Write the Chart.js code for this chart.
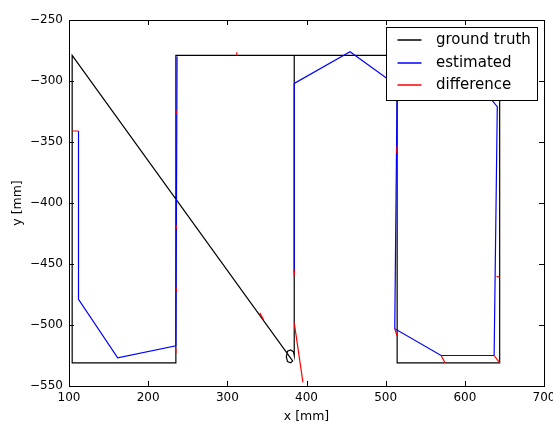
<!DOCTYPE html>
<html>
<head>
<meta charset="utf-8">
<script src="https://cdn.jsdelivr.net/npm/chart.js@4"></script>
<style>
html,body{margin:0;padding:0;background:#fff;}
canvas{display:block;}
</style>
</head>
<body>
<canvas id="c" width="553" height="426"></canvas>
<script>
// ---- data (mm) ----
const seriesLabels = ['ground truth', 'estimated', 'difference'];
const seriesColors = ['rgb(0,0,0)', 'rgb(0,0,255)', 'rgb(255,0,0)'];

const gtX = [644, 644, 514.5, 514.5, 384.5, 235, 235, 104, 104, 382.5, 380, 376, 374.5, 376, 380, 383.5, 384.5, 384.5];
const gtY = [-279, -531, -531, -279, -279, -279, -531, -531, -279, -529.5, -531, -530, -526, -521.5, -520.5, -522, -525, -279];

const estX = [112, 112, 161.5, 235, 236.5, null, 384.5, 384.5, 455, 514.5, 511.5, 570, 637, 641, 587];
const estY = [-341, -479, -527, -517, -280, null, -457, -302, -276, -304, -503, -525, -525, -321, -279];

const diffX = [104, 112, null, 312, 312, null, 235, 236, null, 235, 236, null, 235, 236, null, 235, 235, null,
               341, 346, null, 384.5, 384.5, null, 384.5, 395.5, null, 514.5, 514, null, 511.5, 514.5, null,
               570, 575, null, 640, 644, null, 637, 644];
const diffY = [-341, -341, null, -279, -276.5, null, -324, -327, null, -418, -421, null, -469, -472, null, -519, -523, null,
               -490, -496, null, -455, -460, null, -498, -547, null, -353, -359, null, -503, -509, null,
               -525, -531, null, -460, -461, null, -525, -531];

const xTickValues = [100, 200, 300, 400, 500, 600, 700];
const yTickValues = [-550, -500, -450, -400, -350, -300, -250];
const xTitle = 'x [mm]';
const yTitle = 'y [mm]';

// ---- build ----
function pts(xs, ys) { return xs.map((x, i) => ({x: x, y: ys[i]})); }
const FONT = "'DejaVu Sans', sans-serif";
const fmt = v => (v < 0 ? '\u2212' + Math.abs(v) : String(v));

const frame = {
  id: 'frame',
  afterDraw(chart) {
    const {ctx, chartArea: a, scales: {x, y}} = chart;
    ctx.save();
    ctx.setLineDash([]);
    ctx.globalAlpha = 1;
    ctx.strokeStyle = '#000';
    ctx.lineWidth = 1;
    ctx.beginPath();
    const L = 5;
    xTickValues.forEach(v => {
      const px = Math.round(x.getPixelForValue(v)) + 0.5;
      ctx.moveTo(px, a.bottom); ctx.lineTo(px, a.bottom - L);
      ctx.moveTo(px, a.top); ctx.lineTo(px, a.top + L);
    });
    yTickValues.forEach(v => {
      const py = Math.round(y.getPixelForValue(v)) + 0.5;
      ctx.moveTo(a.left, py); ctx.lineTo(a.left + L, py);
      ctx.moveTo(a.right, py); ctx.lineTo(a.right - L, py);
    });
    ctx.stroke();
    ctx.strokeRect(Math.round(a.left) + 0.5, Math.round(a.top) + 0.5,
                   Math.round(a.right - a.left), Math.round(a.bottom - a.top));

    // legend inside the axes (upper right)
    const bx = Math.round(a.right - 158) + 0.5, by = Math.round(a.top + 7) + 0.5;
    const bw = 151, bh = 73;
    ctx.fillStyle = '#fff';
    ctx.fillRect(bx, by, bw, bh);
    ctx.strokeRect(bx, by, bw, bh);
    ctx.font = '15px ' + FONT;
    ctx.textBaseline = 'middle';
    ctx.textAlign = 'left';
    const rows = [12, 35, 57];
    for (let i = 0; i < seriesLabels.length; i++) {
      const ry = Math.round(by + rows[i]);
      ctx.beginPath();
      ctx.lineWidth = 1.5;
      ctx.strokeStyle = seriesColors[i];
      ctx.moveTo(bx + 11, ry);
      ctx.lineTo(bx + 35, ry);
      ctx.stroke();
      ctx.fillStyle = '#000';
      ctx.fillText(seriesLabels[i], bx + 49.5, ry);
    }
    ctx.restore();
  }
};

const common = {showLine: true, pointRadius: 0, pointHoverRadius: 0, borderWidth: 1.2, tension: 0, spanGaps: false, fill: false};

new Chart(document.getElementById('c'), {
  type: 'scatter',
  data: {
    datasets: [
      Object.assign({label: seriesLabels[0], data: pts(gtX, gtY), borderColor: seriesColors[0], backgroundColor: seriesColors[0], order: 3}, common),
      Object.assign({label: seriesLabels[1], data: pts(estX, estY), borderColor: seriesColors[1], backgroundColor: seriesColors[1], order: 2}, common),
      Object.assign({label: seriesLabels[2], data: pts(diffX, diffY), borderColor: seriesColors[2], backgroundColor: seriesColors[2], order: 1}, common)
    ]
  },
  options: {
    responsive: false,
    devicePixelRatio: 1,
    animation: false,
    events: [],
    layout: {padding: {top: 20, right: 9, left: 0, bottom: 0}},
    plugins: {legend: {display: false}, tooltip: {enabled: false}},
    scales: {
      x: {
        type: 'linear', min: 100, max: 700,
        afterBuildTicks: s => { s.ticks = xTickValues.map(v => ({value: v})); },
        afterFit: s => { s.height = 40; s.paddingRight = 0; s.paddingLeft = 0; },
        grid: {display: false, drawTicks: false},
        border: {display: false},
        ticks: {padding: 5, color: '#000', font: {size: 12, family: FONT}, callback: v => fmt(v), maxRotation: 0, autoSkip: false},
        title: {display: true, text: xTitle, color: '#000', font: {size: 12.5, family: FONT}, padding: {top: 0, bottom: 2}}
      },
      y: {
        type: 'linear', min: -550, max: -250,
        afterBuildTicks: s => { s.ticks = yTickValues.map(v => ({value: v})); },
        afterFit: s => { s.width = 69; s.paddingTop = 0; s.paddingBottom = 0; },
        grid: {display: false, drawTicks: false},
        border: {display: false},
        ticks: {padding: 6, color: '#000', font: {size: 12, family: FONT}, callback: v => fmt(v), autoSkip: false},
        title: {display: true, text: yTitle, color: '#000', font: {size: 12.5, family: FONT}, padding: {top: 10, bottom: 0}}
      }
    }
  },
  plugins: [frame]
});
</script>
</body>
</html>
